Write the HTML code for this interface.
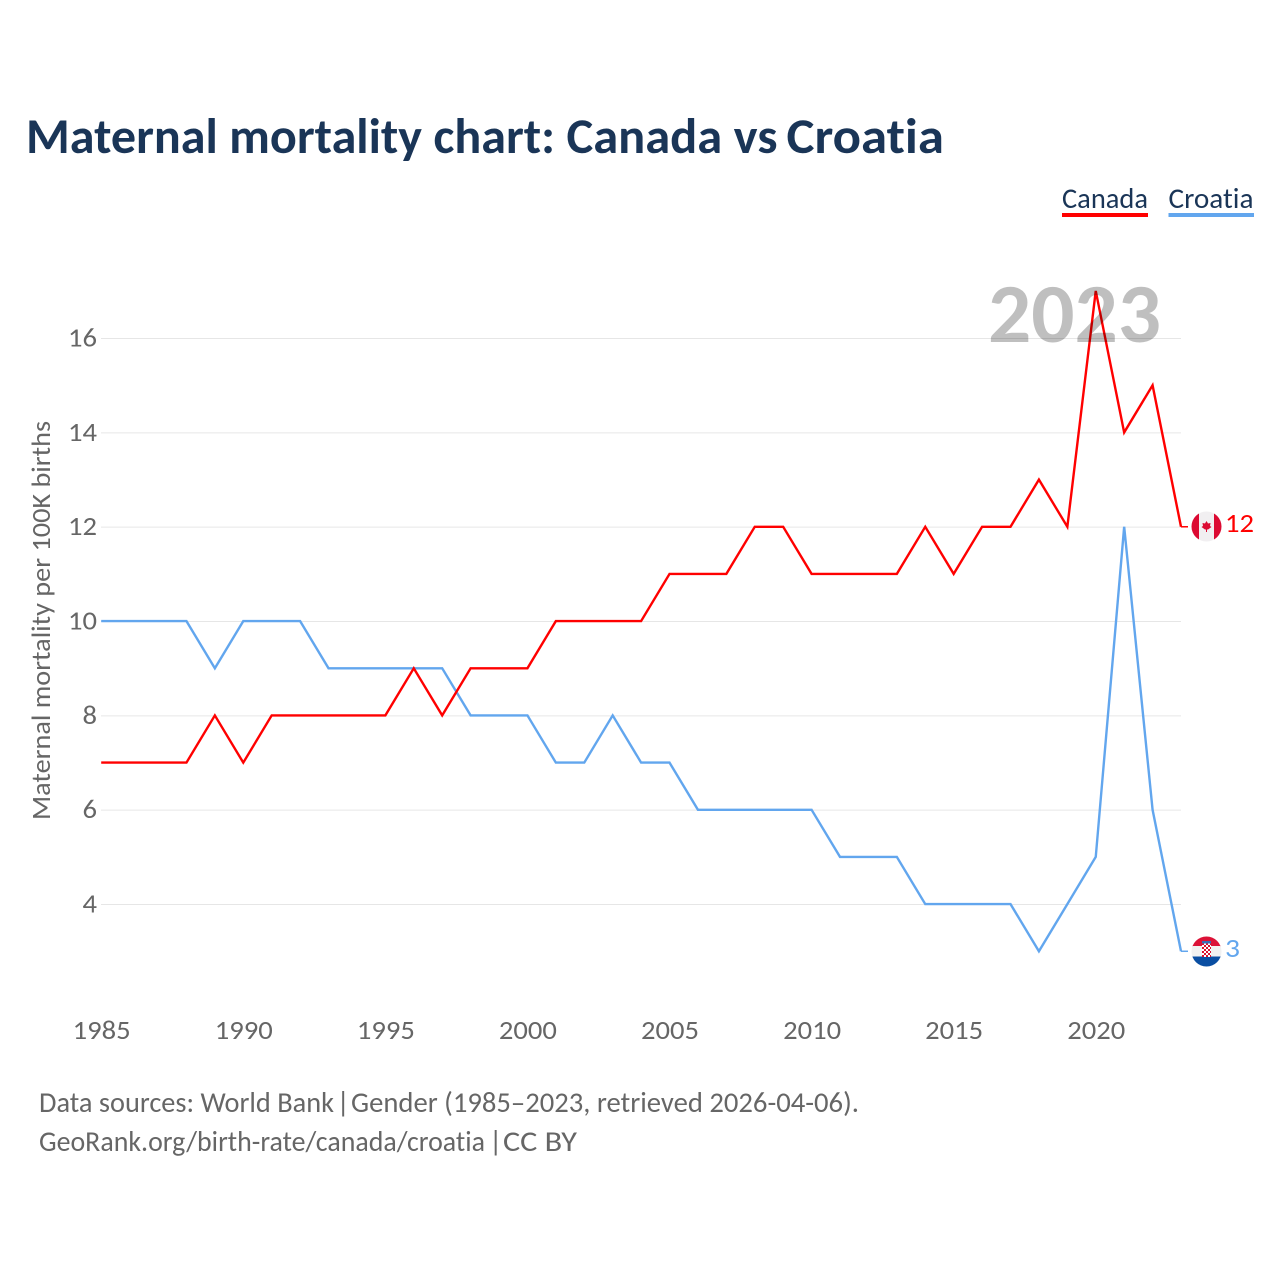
<!DOCTYPE html>
<html lang="en">
<head>
<meta charset="utf-8">
<title>Maternal mortality chart: Canada vs Croatia</title>
<style>
html,body{margin:0;padding:0;background:#fff;}
svg{display:block;font-family:"Carlito","Lato","Liberation Sans",sans-serif;font-variant-ligatures:none;font-feature-settings:"liga" 0,"clig" 0;}
</style>
</head>
<body>
<svg id="chart" width="1280" height="1280" viewBox="0 0 1280 1280" xmlns="http://www.w3.org/2000/svg">
  <rect width="1280" height="1280" fill="#fff"/>
  <g font-size="50" font-weight="700" fill="#1a3557">
    <text x="26" y="153" textLength="529" lengthAdjust="spacingAndGlyphs">Maternal mortality chart:</text>
    <text x="566.5" y="153" textLength="211" lengthAdjust="spacingAndGlyphs">Canada vs</text>
    <text x="786.5" y="153" textLength="157.5" lengthAdjust="spacingAndGlyphs">Croatia</text>
  </g>
  <g id="grid"></g>
  <g id="yticks"></g>
  <g id="xticks"></g>
  <text transform="translate(50,820) rotate(-90)" font-size="27" fill="#666" textLength="399" lengthAdjust="spacingAndGlyphs">Maternal mortality per 100K births</text>
  <g id="series"></g>
  <text x="988" y="342" font-size="84" font-weight="700" fill="#000" fill-opacity="0.25" textLength="173" lengthAdjust="spacingAndGlyphs">2023</text>

  <g>
    <text x="1062" y="208" font-size="29" fill="#1a3557" textLength="86" lengthAdjust="spacingAndGlyphs">Canada</text>
    <rect x="1062" y="213" width="86" height="4" fill="#ff0000"/>
  </g>
  <g>
    <text x="1168.5" y="208" font-size="29" fill="#1a3557" textLength="85" lengthAdjust="spacingAndGlyphs">Croatia</text>
    <rect x="1168.5" y="213" width="85.5" height="4" fill="#62a6ee"/>
  </g>

  <defs>
    <clipPath id="clip-ca"><circle cx="1206.5" cy="526.5" r="15"/></clipPath>
    <clipPath id="clip-hr"><circle cx="1206.5" cy="951.5" r="15"/></clipPath>
    <pattern id="checker" width="4" height="4" patternUnits="userSpaceOnUse" x="1202" y="943">
      <rect width="4" height="4" fill="#fff"/>
      <rect width="2" height="2" fill="#d8102e"/>
      <rect x="2" y="2" width="2" height="2" fill="#d8102e"/>
    </pattern>
  </defs>

  <g clip-path="url(#clip-ca)">
    <rect x="1191" y="511" width="31" height="31" fill="#f1eff1"/>
    <rect x="1191" y="511" width="8" height="31" fill="#dc0a32"/>
    <rect x="1214" y="511" width="8" height="31" fill="#dc0a32"/>
    <polygon points="1206.5,521 1208,523.5 1210.5,523 1210,526 1211.5,527 1208,529.5 1207,529.5 1207,532 1206,532 1206,529.5 1205,529.5 1201.5,527 1203,526 1202.5,523 1205,523.500" fill="#dc0a32"/>
  </g>
  <g clip-path="url(#clip-hr)">
    <rect x="1191" y="936" width="31" height="11" fill="#dc1237"/>
    <rect x="1191" y="946" width="31" height="11" fill="#f1f1f1"/>
    <rect x="1191" y="956.500" width="31" height="11" fill="#0a4ea2"/>
    <rect x="1202" y="943" width="9" height="14" fill="url(#checker)"/>
    <rect x="1202" y="941" width="9" height="2.500" fill="#3a6cb5"/>
  </g>
  <text x="1225" y="532" font-size="27" fill="#ff0000" textLength="29" lengthAdjust="spacingAndGlyphs">12</text>
  <text x="1225" y="957" font-size="27" fill="#62a6ee" textLength="15" lengthAdjust="spacingAndGlyphs">3</text>

  <g font-size="29" fill="#666">
    <text x="39" y="1112" textLength="295" lengthAdjust="spacingAndGlyphs">Data sources: World Bank</text>
    <text x="336.5" y="1112">|</text>
    <text x="351" y="1112" textLength="508" lengthAdjust="spacingAndGlyphs">Gender (1985–2023, retrieved 2026-04-06).</text>
  </g>
  <g font-size="29" fill="#666">
    <text x="39" y="1151" textLength="446" lengthAdjust="spacingAndGlyphs">GeoRank.org/birth-rate/canada/croatia</text>
    <text x="489" y="1151">|</text>
    <text x="503" y="1151" textLength="74" lengthAdjust="spacingAndGlyphs">CC BY</text>
  </g>

  <script>
    const years = [1985,1986,1987,1988,1989,1990,1991,1992,1993,1994,1995,1996,1997,1998,1999,2000,2001,2002,2003,2004,2005,2006,2007,2008,2009,2010,2011,2012,2013,2014,2015,2016,2017,2018,2019,2020,2021,2022,2023];
    const canadaValues = [7,7,7,7,8,7,8,8,8,8,8,9,8,9,9,9,10,10,10,10,11,11,11,12,12,11,11,11,11,12,11,12,12,13,12,17,14,15,12];
    const croatiaValues = [10,10,10,10,9,10,10,10,9,9,9,9,9,8,8,8,7,7,8,7,7,6,6,6,6,6,5,5,5,4,4,4,4,3,4,5,12,6,3];
    const yTickLabels = [4,6,8,10,12,14,16];
    const xTickLabels = [1985,1990,1995,2000,2005,2010,2015,2020];

    const NS = 'http://www.w3.org/2000/svg';
    const xScale = function (year) { return 101.2 + (year - 1985) * (1181 - 101.2) / 38; };
    const yScale = function (value) { return 338.5 + (16 - value) * (904.5 - 338.5) / 12; };

    const grid = document.getElementById('grid');
    const yticks = document.getElementById('yticks');
    const xticks = document.getElementById('xticks');
    const series = document.getElementById('series');

    yTickLabels.forEach(function (tick) {
      const line = document.createElementNS(NS, 'line');
      
      
      line.setAttribute('x1', 101);
      line.setAttribute('x2', 1181);
      line.setAttribute('y1', yScale(tick));
      line.setAttribute('y2', yScale(tick));
      line.setAttribute('stroke', '#e6e6e6');
      line.setAttribute('stroke-width', '1');
      grid.appendChild(line);

      const label = document.createElementNS(NS, 'text');
      
      
      label.setAttribute('x', 97);
      label.setAttribute('y', yScale(tick) + 8);
      label.setAttribute('text-anchor', 'end');
      label.setAttribute('font-size', '27');
      label.setAttribute('fill', '#666');
      label.setAttribute('textLength', String(tick).length * 14.5);
      label.setAttribute('lengthAdjust', 'spacingAndGlyphs');
      label.textContent = tick;
      yticks.appendChild(label);
    });

    xTickLabels.forEach(function (tick) {
      const label = document.createElementNS(NS, 'text');
      
      
      label.setAttribute('x', xScale(tick) - 28.5);
      label.setAttribute('y', 1039);
      label.setAttribute('font-size', '27');
      label.setAttribute('fill', '#666');
      label.setAttribute('textLength', 58);
      label.setAttribute('lengthAdjust', 'spacingAndGlyphs');
      label.textContent = tick;
      xticks.appendChild(label);
    });

    function addLine(values, color, name) {
      const pts = values.map(function (v, i) { return xScale(years[i]).toFixed(2) + ',' + (yScale(v) - 0.4).toFixed(2); });
      const path = document.createElementNS(NS, 'path');
      
      
      path.setAttribute('d', 'M' + pts.join('L'));
      path.setAttribute('fill', 'none');
      path.setAttribute('stroke', color);
      path.setAttribute('stroke-width', '2.4');
      path.setAttribute('stroke-linejoin', 'miter');
      series.appendChild(path);

      const endYear = years[years.length - 1];
      const endY = (yScale(values[values.length - 1]) - 0.4).toFixed(2);
      const connector = document.createElementNS(NS, 'path');
      
      
      connector.setAttribute('d', 'M' + xScale(endYear) + ',' + endY + 'h7');
      connector.setAttribute('fill', 'none');
      connector.setAttribute('stroke', color);
      connector.setAttribute('stroke-width', '1.5');
      series.appendChild(connector);
    }
    addLine(croatiaValues, '#62a6ee', 'line-croatia');
    addLine(canadaValues, '#ff0000', 'line-canada');
  </script>
</svg>
</body>
</html>
